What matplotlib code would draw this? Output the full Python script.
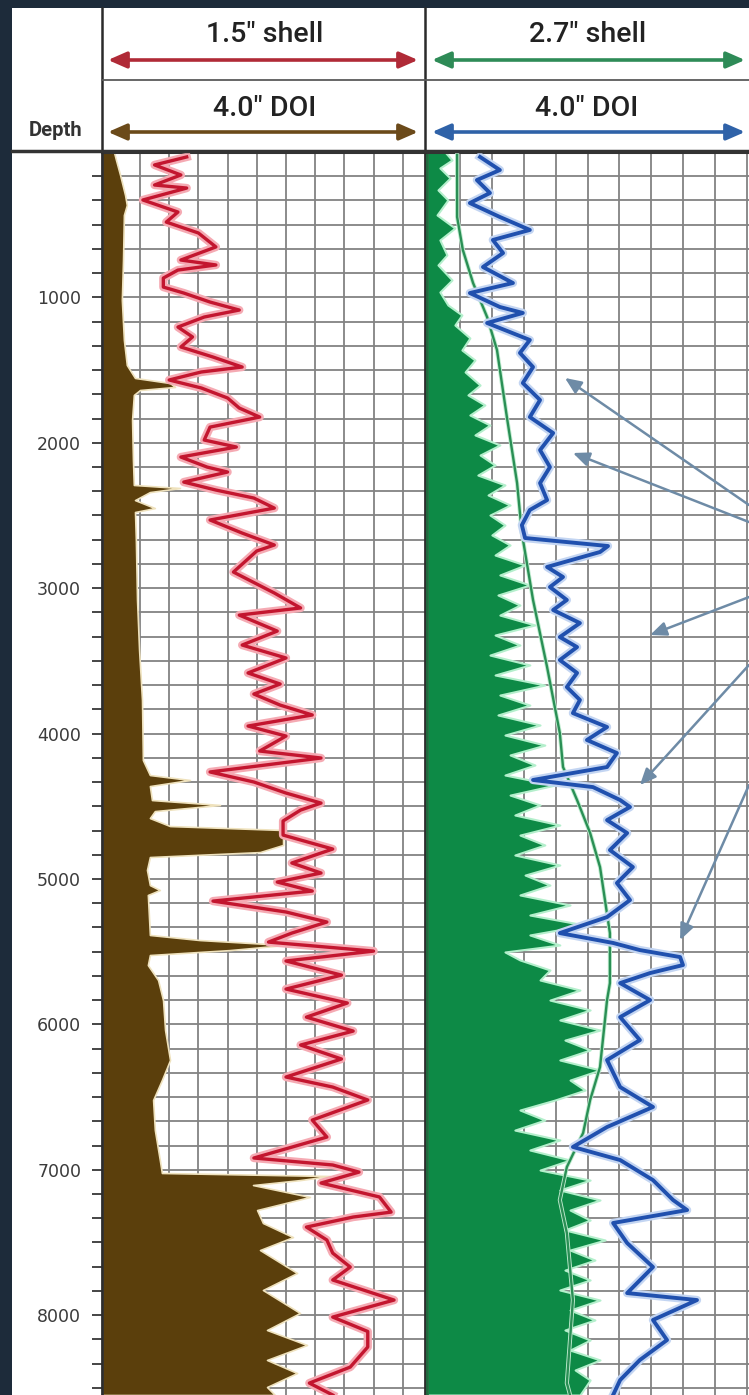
import numpy as np
import matplotlib.pyplot as plt
from matplotlib.patches import Rectangle
from matplotlib.ticker import MultipleLocator

# ---- data (depth in ft, track values in chart units) ----
depth_ticks = [1000, 2000, 3000, 4000, 5000, 6000, 7000, 8000]

# track 1: 1.5" shell curve (red)
red_depth = [34, 89, 158, 227, 248, 330, 413, 482, 557, 653,
             743, 777, 812, 867, 929, 970, 1032, 1087, 1135, 1204,
             1272, 1341, 1410, 1479, 1513, 1568, 1623, 1692, 1761, 1823,
             1892, 1981, 2029, 2098, 2167, 2201, 2270, 2325, 2380, 2449,
             2531, 2621, 2703, 2744, 2889, 3033, 3136, 3185, 3295, 3391,
             3480, 3583, 3659, 3728, 3804, 3872, 3948, 4017, 4120, 4168,
             4264, 4333, 4409, 4478, 4526, 4601, 4698, 4794, 4890, 4959,
             5021, 5083, 5152, 5227, 5296, 5372, 5434, 5496, 5564, 5661,
             5757, 5853, 5950, 6046, 6142, 6238, 6362, 6431, 6520, 6658,
             6775, 6919, 6967, 7016, 7091, 7187, 7291, 7325, 7394, 7483,
             7573, 7669, 7758, 7896, 8013, 8112, 8219, 8357, 8467, 8549]
red_val = [26, 15, 24, 15, 26, 11, 23, 19, 30, 36,
           24, 36, 23, 18, 18, 25, 34, 44, 32, 23,
           28, 24, 35, 45, 31, 20, 31, 40, 44, 51,
           34, 32, 43, 24, 33, 40, 25, 36, 49, 56,
           34, 45, 56, 50, 42, 56, 65, 44, 57, 45,
           60, 47, 58, 49, 58, 69, 47, 60, 51, 72,
           34, 49, 60, 72, 65, 59, 59, 76, 62, 72,
           57, 69, 35, 60, 74, 62, 54, 90, 60, 79,
           60, 81, 67, 83, 65, 79, 60, 76, 88, 69,
           74, 49, 76, 85, 72, 92, 96, 83, 67, 74,
           76, 82, 76, 97, 76, 88, 88, 82, 68, 76]

# track 1: 4.0" DOI (brown fill)
brown_depth = [0, 55, 158, 296, 365, 433, 743, 1018, 1293, 1465,
               1554, 1589, 1616, 1637, 1671, 1843, 2118, 2290, 2311, 2339,
               2394, 2449, 2476, 2669, 3081, 3425, 3769, 4182, 4285, 4319,
               4361, 4457, 4491, 4533, 4581, 4636, 4663, 4766, 4815, 4849,
               4938, 5042, 5076, 5110, 5385, 5420, 5454, 5489, 5523, 5592,
               5695, 5833, 6039, 6245, 6383, 6520, 6727, 6933, 7022, 7043,
               7071, 7105, 7187, 7277, 7366, 7463, 7552, 7710, 7827, 7985,
               8102, 8205, 8308, 8398, 8494, 8549]
brown_val = [1.1, 1.8, 3.2, 4.9, 5.5, 4.5, 4.2, 3.8, 4.5, 5.5,
             8.3, 20.3, 22.0, 10.0, 7.9, 7.3, 7.6, 7.9, 23.7, 13.4,
             8.3, 15.1, 8.3, 8.6, 9.0, 9.7, 10.7, 11.0, 13.4, 27.1,
             13.4, 14.1, 37.4, 15.1, 13.4, 20.3, 59.0, 59.0, 51.1, 13.4,
             12.4, 13.4, 16.8, 12.7, 13.4, 30.5, 59.7, 40.8, 13.4, 12.7,
             16.2, 17.9, 18.6, 20.3, 17.5, 14.5, 15.1, 16.8, 17.5, 75.1,
             64.8, 48.7, 68.2, 50.1, 52.1, 62.4, 51.1, 63.8, 52.1, 64.8,
             53.5, 67.2, 53.5, 63.8, 53.5, 56.2]

# track 2: 2.7" shell (green fill)
green_depth = [0, 55, 110, 179, 261, 330, 433, 523, 605, 708,
               777, 880, 963, 1052, 1121, 1190, 1279, 1362, 1431, 1513,
               1603, 1671, 1740, 1809, 1878, 1946, 2015, 2084, 2153, 2222,
               2290, 2359, 2428, 2497, 2566, 2634, 2703, 2772, 2841, 2909,
               2978, 3047, 3116, 3185, 3253, 3322, 3391, 3460, 3528, 3597,
               3666, 3735, 3804, 3872, 3941, 4010, 4079, 4147, 4216, 4285,
               4354, 4423, 4491, 4560, 4629, 4698, 4766, 4835, 4904, 4973,
               5042, 5110, 5179, 5248, 5317, 5385, 5454, 5502, 5557, 5626,
               5695, 5764, 5833, 5901, 5970, 6039, 6108, 6176, 6245, 6314,
               6383, 6452, 6520, 6589, 6658, 6727, 6795, 6864, 6933, 7002,
               7071, 7139, 7208, 7277, 7346, 7414, 7483, 7552, 7621, 7690,
               7758, 7827, 7896, 7965, 8033, 8102, 8171, 8240, 8308, 8377,
               8446, 8549]
green_val = [5.3, 7.5, 3.7, 6.9, 3.1, 6.2, 2.8, 8.4, 3.7, 5.9,
             3.1, 7.5, 3.7, 6.2, 10.6, 8.4, 13.1, 10.6, 14.7, 11.6,
             16.3, 12.5, 17.8, 13.1, 19.4, 14.7, 22.5, 16.3, 21.0, 15.6,
             24.1, 18.8, 25.7, 19.4, 24.1, 20.0, 25.7, 21.0, 30.4, 22.5,
             31.9, 21.9, 28.8, 22.5, 33.5, 21.0, 28.8, 19.4, 31.9, 21.0,
             36.6, 22.5, 31.9, 21.9, 35.1, 24.1, 36.6, 25.7, 33.5, 24.1,
             39.8, 25.7, 35.1, 27.2, 41.3, 28.8, 36.6, 27.2, 41.3, 30.4,
             38.2, 28.8, 44.5, 31.9, 49.2, 31.9, 41.3, 24.1, 28.8, 38.2,
             35.1, 47.6, 38.2, 50.8, 41.3, 53.9, 42.9, 50.8, 41.3, 53.9,
             44.5, 49.2, 39.8, 28.8, 36.6, 27.2, 41.3, 31.9, 44.5, 35.1,
             50.8, 41.3, 53.9, 44.5, 50.8, 42.9, 55.5, 44.5, 52.3, 42.9,
             50.8, 41.3, 53.9, 44.5, 52.3, 42.9, 50.8, 44.5, 53.9, 46.1,
             50.8, 47.6]

# track 2: 2.7" shell trend line (thin green)
gline_depth = [21, 447, 674, 901, 1135, 1362, 1823, 2277, 2621, 3081,
               3542, 3996, 4230, 4457, 4684, 4918, 5372, 5716, 5833, 6293,
               6520, 6747, 6981, 7208, 7435, 7896, 8467, 8549]
gline_val = [9.1, 9.1, 10.9, 14.1, 18.5, 21.6, 24.7, 27.9, 29.4, 32.9,
             37.3, 41.3, 42.3, 46.7, 50.8, 53.9, 57.0, 57.0, 56.1, 53.9,
             50.8, 48.6, 43.5, 41.3, 43.5, 45.4, 43.5, 44.5]

# track 2: 4.0" DOI (blue)
blue_depth = [34, 124, 193, 282, 351, 447, 536, 605, 695, 791,
              901, 970, 1066, 1107, 1176, 1293, 1382, 1479, 1589, 1706,
              1823, 1933, 2050, 2167, 2277, 2394, 2462, 2566, 2655, 2710,
              2751, 2854, 2923, 2992, 3081, 3150, 3240, 3336, 3405, 3494,
              3583, 3680, 3769, 3859, 3955, 4044, 4134, 4230, 4319, 4368,
              4457, 4505, 4595, 4684, 4801, 4918, 5028, 5145, 5262, 5372,
              5440, 5489, 5537, 5592, 5647, 5716, 5833, 5950, 6108, 6245,
              6431, 6568, 6706, 6843, 6933, 7071, 7208, 7277, 7366, 7504,
              7669, 7848, 7896, 8033, 8171, 8308, 8446, 8549]
blue_val = [16.3, 22.5, 15.3, 19.4, 13.1, 22.5, 31.9, 20.3, 23.5, 17.2,
            26.6, 13.1, 22.5, 29.7, 18.5, 31.9, 28.8, 32.9, 29.7, 35.1,
            31.9, 39.2, 35.1, 38.2, 35.1, 37.3, 31.9, 29.4, 30.4, 56.4,
            53.9, 37.3, 42.3, 38.2, 43.5, 39.2, 47.6, 41.3, 46.7, 41.3,
            46.7, 43.5, 47.6, 45.4, 56.1, 49.8, 59.2, 56.1, 32.9, 51.7,
            60.2, 63.3, 56.1, 62.4, 57.0, 64.2, 59.2, 63.3, 56.1, 41.3,
            58.0, 66.4, 79.0, 79.9, 69.6, 60.2, 69.6, 60.2, 66.4, 56.1,
            60.2, 70.5, 56.1, 45.4, 60.2, 70.5, 76.8, 81.2, 58.0, 62.4,
            70.5, 62.4, 84.3, 70.5, 74.9, 66.4, 60.2, 58.0]

# callout arrows pointing at the 4.0" DOI curve
callout_depth = [1554, 2070, 3322, 4354, 5420]
callout_val = [42.9, 45.4, 69.6, 66.4, 79.0]
callout_from = [2428, 2545, 3061, 3528, 4354]

W, H = 749, 1395
TOP = 152
DMAX = 8549


def px_box(x0, y0, x1, y1):
    return [x0 / W, 1 - y1 / H, (x1 - x0) / W, (y1 - y0) / H]


fig = plt.figure(figsize=(W / 100, H / 100), dpi=100, facecolor='#1d2b3a')
fig.patches.append(Rectangle((12 / W, 0), (W - 12) / W, (H - 8) / H,
                             transform=fig.transFigure, facecolor='white',
                             edgecolor='none', zorder=-5))

ax1 = fig.add_axes(px_box(102, TOP, 425, H))
ax2 = fig.add_axes(px_box(427, TOP, W, H), sharey=ax1)
ax1.set_xlim(-3, 107.6)
ax2.set_xlim(-0.34, 100.6)

for ax in (ax1, ax2):
    ax.set_ylim(DMAX, 0)
    ax.set_xticks(np.arange(0, 101, 10))
    ax.tick_params(axis='x', length=0, labelbottom=False)
    ax.yaxis.set_minor_locator(MultipleLocator(1000 / 6))
    ax.grid(which='both', color='#828282', lw=1.3)
    ax.set_axisbelow(True)
    ax.spines['bottom'].set_visible(False)
    ax.spines['top'].set_color('#333333')
    ax.spines['top'].set_linewidth(2.2)

ax1.set_yticks(depth_ticks)
ax1.tick_params(axis='y', which='both', direction='out', length=7, width=1.4,
                color='#444444', labelsize=12.5, labelcolor='#3b3b3b', pad=8)
for lab in ax1.get_yticklabels():
    lab.set_family(['DejaVu Sans'])
ax2.tick_params(axis='y', which='both', length=0, labelleft=False)
ax1.spines['left'].set_color('#2d2d2d')
ax1.spines['left'].set_linewidth(2)
ax1.spines['right'].set_color('#2d2d2d')
ax1.spines['right'].set_linewidth(2)
ax2.spines['left'].set_color('#1e6b3e')
ax2.spines['left'].set_linewidth(2)
ax2.spines['right'].set_visible(False)

# track 1
ax1.fill_betweenx(brown_depth, -3, brown_val, facecolor='#5b3f0c',
                  edgecolor='#efe2bd', lw=1.2, zorder=2)
ax1.plot(red_val, red_depth, color='#f5aab3', lw=6, solid_joinstyle='round', zorder=3)
ax1.plot(red_val, red_depth, color='#c3162f', lw=2.4, solid_joinstyle='round', zorder=4)

# track 2
ax2.fill_betweenx(green_depth, -0.34, green_val, facecolor='#0d8a46',
                  edgecolor='#b4efcc', lw=1.5, zorder=2)
ax2.plot(gline_val, gline_depth, color='#bfeccf', lw=3, zorder=3)
ax2.plot(gline_val, gline_depth, color='#2a8f55', lw=1.7, zorder=4)
ax2.plot(blue_val, blue_depth, color='#c3d5f2', lw=6, solid_joinstyle='round', zorder=5)
ax2.plot(blue_val, blue_depth, color='#2050ae', lw=2.8, solid_joinstyle='round', zorder=6)

for d, v, d0 in zip(callout_depth, callout_val, callout_from):
    ax2.annotate('', xy=(v, d), xytext=(100.6, d0), annotation_clip=False,
                 arrowprops=dict(arrowstyle='-|>,head_length=0.7,head_width=0.3',
                                 color='#6e8ba6', lw=1.8, mutation_scale=14,
                                 shrinkA=0, shrinkB=0), zorder=7)

# header
axh = fig.add_axes([0, 0, 1, 1], zorder=10)
axh.set_xlim(0, W)
axh.set_ylim(H, 0)
axh.axis('off')
axh.patch.set_alpha(0)

axh.plot([102, 102], [8, TOP], color='#2b2b2b', lw=1.8)
axh.plot([425, 425], [8, TOP], color='#2b2b2b', lw=1.8)
axh.plot([102, W], [80, 80], color='#5a5a5a', lw=1.3)
axh.plot([12, W], [151, 151], color='#333333', lw=2.5)

hfont = dict(ha='center', va='center', fontsize=20.5, color='#222222',
             family=['Roboto', 'DejaVu Sans'], fontweight='medium')
axh.text(265, 35, '1.5" shell', **hfont)
axh.text(265, 108, '4.0" DOI', **hfont)
axh.text(588, 35, '2.7" shell', **hfont)
axh.text(587, 108, '4.0" DOI', **hfont)
axh.text(56, 131, 'Depth', ha='center', va='center', fontsize=14.5,
         color='#333333', family=['Roboto', 'DejaVu Sans'], fontweight='bold')

arrow_rows = [((108, 418), 60, '#b02a37'), ((108, 418), 132, '#6b4a1a'),
              ((432, 745), 60, '#2e8b57'), ((432, 745), 132, '#2f62a8')]
for (xa, xb), yy, col in arrow_rows:
    axh.annotate('', xy=(xb, yy), xytext=(xa, yy),
                 arrowprops=dict(arrowstyle='<|-|>,head_length=0.8,head_width=0.35',
                                 color=col, lw=2.6, mutation_scale=14,
                                 shrinkA=0, shrinkB=0))

fig.savefig('out.png', dpi=100, facecolor=fig.get_facecolor())
